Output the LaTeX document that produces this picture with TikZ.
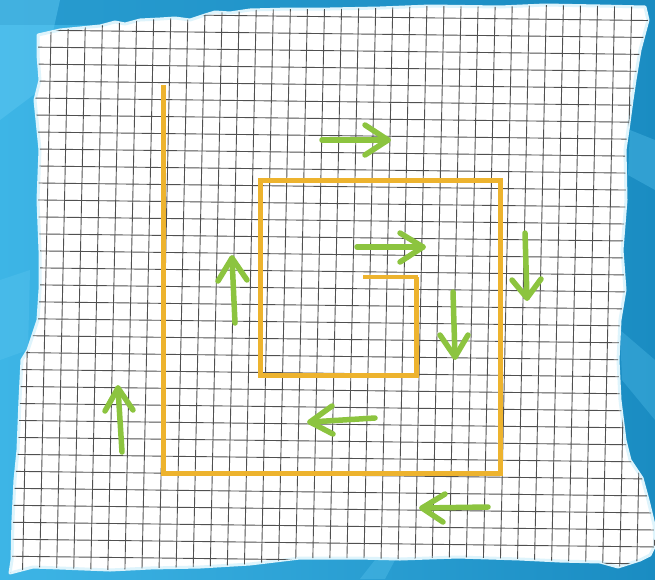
\documentclass[tikz,border=0pt]{standalone}
\definecolor{bluedark}{HTML}{1A8CC2}
\definecolor{bluemid}{HTML}{259FD5}
\definecolor{bluelight}{HTML}{3DB5E6}
\definecolor{bluepale}{HTML}{5CC6F0}
\definecolor{gridgray}{HTML}{505050}
\definecolor{orangeline}{HTML}{EDB32E}
\definecolor{greenarrow}{HTML}{8CC43F}
\tikzset{
  spiral/.style={draw=orangeline, line width=5pt, line join=miter},
  greenarr/.style={draw=greenarrow, line width=5.5pt, line cap=round, line join=round},
  gridline/.style={draw=gridgray, line width=0.9pt},
  paperedge/.style={fill=white, draw=white!80!bluepale, line width=3pt, line join=round},
}
\newcommand\paperoutline{(38,35) -- (60,30) -- (80,28) -- (100,26) -- (115,22) -- (125,24) -- (140,20) -- (160,19) -- (175,18) -- (190,20) -- (205,15) -- (215,12) -- (230,13) -- (250,10) -- (290,9) -- (330,9) -- (380,8) -- (430,6) -- (500,7) -- (545,5) -- (600,6) -- (645,7) -- (648,20) -- (640,50) -- (635,80) -- (632,100) -- (628,130) -- (625,150) -- (626,200) -- (622,250) -- (625,290) -- (620,320) -- (618,360) -- (620,400) -- (625,440) -- (630,460) -- (642,478) -- (648,500) -- (654,525) -- (655,545) -- (650,555) -- (640,560) -- (618,567) -- (600,562) -- (560,561) -- (520,559) -- (458,557) -- (400,559) -- (358,558) -- (300,558) -- (250,564) -- (200,567) -- (150,568) -- (110,570) -- (60,568) -- (33,567) -- (10,573) -- (12,560) -- (13,520) -- (15,480) -- (18,450) -- (20,400) -- (22,360) -- (28,350) -- (33,335) -- (38,320) -- (40,290) -- (40,250) -- (38,200) -- (40,150) -- (36,110) -- (35,100) -- (40,80) -- (38,55) -- cycle}
\newcommand\greenarrowdraw[4]{\draw[greenarr] #1 -- #2; \draw[greenarr] #3 -- #2 -- #4;}
\begin{document}
\begin{tikzpicture}[x=1pt,y=-1pt]
\useasboundingbox (0,0) rectangle (655,579);
% blue background
\shade[left color=bluelight, right color=bluedark] (0,0) rectangle (655,579);
\fill[bluedark, opacity=0.6] (0,0) rectangle (655,25);
\fill[bluepale, opacity=0.5] (0,0) -- (60,0) -- (40,90) -- (0,120) -- cycle;
\fill[bluepale, opacity=0.35] (0,280) -- (30,270) -- (28,350) -- (0,360) -- cycle;
\fill[bluepale, opacity=0.35] (630,130) -- (655,140) -- (655,190) -- (628,175) -- cycle;
\fill[bluepale, opacity=0.3] (620,330) -- (655,360) -- (655,420) -- (622,380) -- cycle;
\fill[bluepale, opacity=0.35] (360,579) -- (375,560) -- (395,560) -- (385,579) -- cycle;
% paper
\path[paperedge] \paperoutline;
\begin{scope}
  \clip \paperoutline;
  \foreach \i in {-3,...,37}
    \draw[gridline] ({50.7+17.06*\i+0.0212*57},-10) -- ({50.7+17.06*\i-0.0212*553},600);
  \foreach \j in {-4,...,34}
    \draw[gridline] (-10,{47.3+16.98*\j-0.012*60.7}) -- (665,{47.3+16.98*\j+0.012*614.3});
\end{scope}
% orange spiral
\coordinate (s0) at (163,85);
\coordinate (s1) at (163,473);
\coordinate (s2) at (500,473);
\coordinate (s3) at (500,180);
\coordinate (s4) at (260,180);
\coordinate (s5) at (260,375);
\coordinate (s6) at (416,375);
\coordinate (s7) at (416,277);
\coordinate (s8) at (363,277);
\draw[spiral] (s0) -- (s1) -- (s2) -- (s3) -- (s4) -- (s5) -- (s6) -- (s7);
\draw[spiral, line width=4pt] (s6) -- (s7) -- (s8);
% green arrows
\greenarrowdraw{(322,140)}{(388,140)}{(365,125)}{(365,155)}
\greenarrowdraw{(357,247)}{(423,247)}{(400,233)}{(400,262)}
\greenarrowdraw{(525,233)}{(527,298)}{(512,280)}{(541,279)}
\greenarrowdraw{(453,292)}{(455,357)}{(440,335)}{(468,335)}
\greenarrowdraw{(375,418)}{(310,422)}{(332,406)}{(333,434)}
\greenarrowdraw{(488,507)}{(422,508)}{(445,494)}{(443,522)}
\greenarrowdraw{(235,323)}{(232,258)}{(218,281)}{(247,280)}
\greenarrowdraw{(122,452)}{(118,388)}{(105,411)}{(133,410)}
\end{tikzpicture}
\end{document}
